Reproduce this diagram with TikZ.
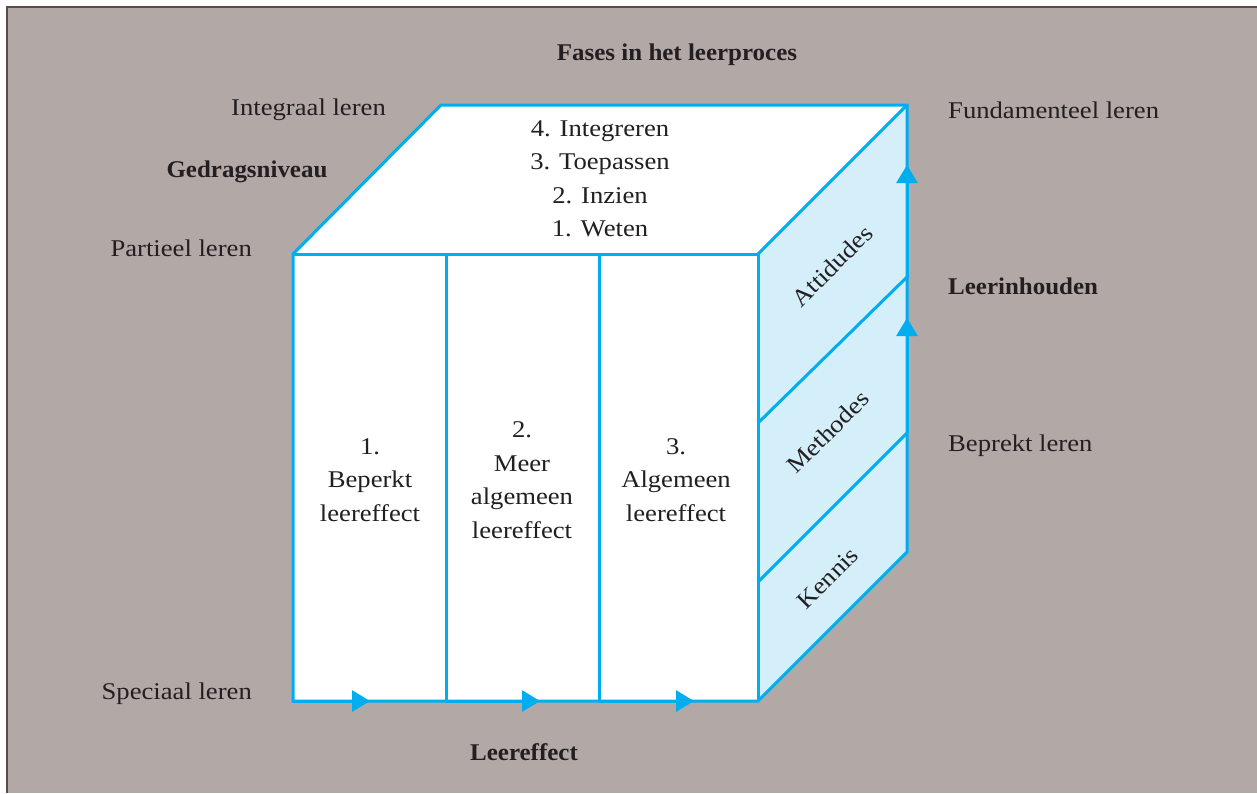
\documentclass[tikz,border=0pt]{standalone}
\usepackage{fontspec}
\setmainfont{Liberation Serif}
\newfontfamily\regf{Liberation Serif}[FakeStretch=1.11]
\newfontfamily\boldf{Liberation Serif}[FakeStretch=1.04]
\usetikzlibrary{arrows.meta}
\definecolor{bg}{HTML}{B2A8A6}
\definecolor{framec}{HTML}{5A4A48}
\definecolor{cy}{HTML}{00AEEF}
\definecolor{lb}{HTML}{D4EEFA}
\definecolor{txt}{HTML}{231F20}
\begin{document}
\begin{tikzpicture}[x=1pt,y=-1pt,
  edge/.style={draw=cy, line width=3pt, line join=miter},
  tipline/.style={draw=cy, line width=3pt, -{Triangle[length=18pt,width=21pt]}},
  lbl/.style={text=txt, font=\fontsize{24}{33.5}\regf, inner sep=0pt},
  blbl/.style={text=txt, font=\fontsize{24}{33.5}\boldf\bfseries, inner sep=0pt},
  side/.style={text=txt, font=\fontsize{24}{33.5}\regf, inner sep=0pt, rotate=45}]
\useasboundingbox (0,0) rectangle (1257,793);
\fill[white] (0,0) rectangle (1257,793);
\fill[bg] (7,7) rectangle (1257,793);
\draw[framec, line width=2.5pt] (7,793) -- (7,7) -- (1257,7);
% cube corners
\coordinate (A) at (293,254);
\coordinate (B) at (758,254);
\coordinate (C) at (758,701);
\coordinate (D) at (293,701);
\coordinate (E) at (441,105);
\coordinate (F) at (907,105);
\coordinate (G) at (907,552);
\coordinate (P1) at (446,254); \coordinate (Q1) at (446,701);
\coordinate (P2) at (599,254); \coordinate (Q2) at (599,701);
\coordinate (R1) at (758,423); \coordinate (S1) at (907,277);
\coordinate (R2) at (758,582); \coordinate (S2) at (907,433);
% faces
\fill[white] (A) -- (E) -- (F) -- (B) -- cycle;
\fill[white] (A) rectangle (C);
\fill[lb] (B) -- (F) -- (G) -- (C) -- cycle;
\draw[edge] (A) -- (E) -- (F) -- (G) -- (C) -- (D) -- cycle;
\draw[edge] (A) -- (B) -- (C);
\draw[edge] (B) -- (F);
\draw[edge] (P1) -- (Q1);
\draw[edge] (P2) -- (Q2);
\draw[edge] (R1) -- (S1);
\draw[edge] (R2) -- (S2);
% arrows
\coordinate (T1) at (370,701); \coordinate (T2) at (540,701); \coordinate (T3) at (694,701);
\coordinate (U1) at (907,165); \coordinate (U2) at (907,318);
\draw[tipline] (D) -- (T1);
\draw[tipline] (Q1) -- (T2);
\draw[tipline] (Q2) -- (T3);
\draw[tipline] (S1) -- (U1);
\draw[tipline] (S2) -- (U2);
% texts
\node[blbl] (title) at (677,55) {Fases in het leerproces};
\node[lbl, anchor=east] (integraal) at (386,110) {Integraal leren};
\node[blbl] (gedrag) at (247,172) {Gedragsniveau};
\node[lbl, anchor=east] (partieel) at (252,248) {Partieel leren};
\node[lbl, anchor=west] (fund) at (948,110) {Fundamenteel leren};
\node[blbl, anchor=west] (inhoud) at (948,286) {Leerinhouden};
\node[lbl, anchor=west] (beperkt) at (948,446) {Beprekt leren};
\node[lbl, anchor=east] (speciaal) at (252,694) {Speciaal leren};
\node[blbl] (effect) at (524,752) {Leereffect};
\node[lbl, align=center] (fasen) at (600,179) {4. Integreren\\3. Toepassen\\2. Inzien\\1. Weten};
\node[lbl, align=center] (k1) at (370,480) {1.\\Beperkt\\leereffect};
\node[lbl, align=center] (k2) at (522,480) {2.\\Meer\\algemeen\\leereffect};
\node[lbl, align=center] (k3) at (676,480) {3.\\Algemeen\\leereffect};
\node[side] (att) at (832,266) {Attidudes};
\node[side] (meth) at (828,432) {Methodes};
\node[side] (ken) at (828,578) {Kennis};
\end{tikzpicture}
\end{document}
